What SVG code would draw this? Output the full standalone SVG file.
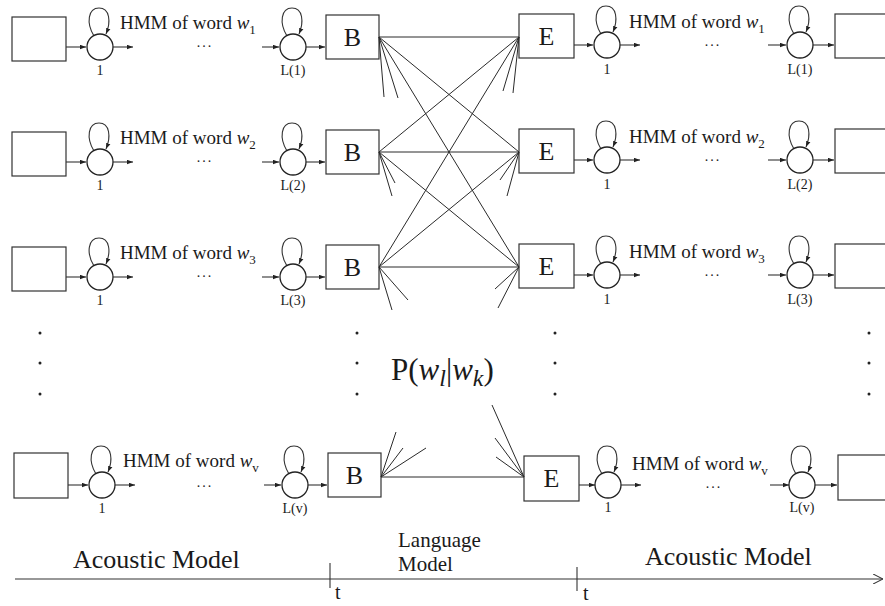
<svg xmlns="http://www.w3.org/2000/svg" width="885" height="606" viewBox="0 0 885 606">
  <style>
    .box { fill: #ffffff; stroke: #333; stroke-width: 1.2; }
    .st { fill: #ffffff; stroke: #222; stroke-width: 1.3; }
    .ln { fill: none; stroke: #333; stroke-width: 1.1; }
    .fan { fill: none; stroke: #2a2a2a; stroke-width: 1; }
    .t { font-family: "Liberation Serif", "Times New Roman", serif; fill: #1a1a1a; }
    .hmm { font-size: 19px; }
    .lab { font-size: 14px; text-anchor: middle; }
    .be { font-size: 26px; text-anchor: middle; }
    .dots { font-size: 14px; text-anchor: middle; letter-spacing: 2px; }
    .dot { fill: #222; }
  </style>
  <defs>
    <marker id="ah" viewBox="0 0 8 6" refX="8" refY="3" markerWidth="6" markerHeight="5" orient="auto" markerUnits="userSpaceOnUse">
      <path d="M0,0 L8,3 L0,6 z" fill="#222"/>
    </marker>
    <marker id="axh" viewBox="0 0 10 10" refX="10" refY="5" markerWidth="10" markerHeight="10" orient="auto" markerUnits="userSpaceOnUse">
      <path d="M0,0 L10,5 L0,10" fill="none" stroke="#333" stroke-width="1.1"/>
    </marker>
    <!-- HMM state: circle with a self-loop on top -->
    <g id="state">
      <path class="ln" d="M-6,-11 C-14,-24 -12,-39 -1,-39 C10,-39 11,-25 6,-13" marker-end="url(#ah)"/>
      <circle class="st" cx="0" cy="0" r="13"/>
    </g>
  </defs>

  <!-- left halves: word HMM chain ending in a B node -->
  <g id="left-w1" transform="translate(0,15)">
    <rect class="box" x="12" y="2" width="54" height="44"/>
    <line class="ln" x1="66" y1="32" x2="86" y2="32" marker-end="url(#ah)"/>
    <use href="#state" x="100" y="32"/>
    <line class="ln" x1="113" y1="32" x2="133" y2="32" marker-end="url(#ah)"/>
    <text class="t hmm" x="120" y="14">HMM of word <tspan font-style="italic">w</tspan><tspan font-size="13" dy="5">1</tspan></text>
    <text class="t dots" x="205" y="32">...</text>
    <line class="ln" x1="262" y1="32" x2="279" y2="32" marker-end="url(#ah)"/>
    <use href="#state" x="293" y="32"/>
    <line class="ln" x1="306" y1="32" x2="325" y2="32" marker-end="url(#ah)"/>
    <text class="t lab" x="100" y="60">1</text>
    <text class="t lab" x="293" y="60">L(1)</text>
  </g>
  <g id="B1"><rect class="box" x="326" y="15" width="53" height="44"/><text class="t be" x="352.5" y="46">B</text></g>

  <g id="left-w2" transform="translate(0,130)">
    <rect class="box" x="12" y="2" width="54" height="44"/>
    <line class="ln" x1="66" y1="32" x2="86" y2="32" marker-end="url(#ah)"/>
    <use href="#state" x="100" y="32"/>
    <line class="ln" x1="113" y1="32" x2="133" y2="32" marker-end="url(#ah)"/>
    <text class="t hmm" x="120" y="14">HMM of word <tspan font-style="italic">w</tspan><tspan font-size="13" dy="5">2</tspan></text>
    <text class="t dots" x="205" y="32">...</text>
    <line class="ln" x1="262" y1="32" x2="279" y2="32" marker-end="url(#ah)"/>
    <use href="#state" x="293" y="32"/>
    <line class="ln" x1="306" y1="32" x2="325" y2="32" marker-end="url(#ah)"/>
    <text class="t lab" x="100" y="60">1</text>
    <text class="t lab" x="293" y="60">L(2)</text>
  </g>
  <g id="B2"><rect class="box" x="326" y="130" width="53" height="44"/><text class="t be" x="352.5" y="161">B</text></g>

  <g id="left-w3" transform="translate(0,245)">
    <rect class="box" x="12" y="2" width="54" height="44"/>
    <line class="ln" x1="66" y1="32" x2="86" y2="32" marker-end="url(#ah)"/>
    <use href="#state" x="100" y="32"/>
    <line class="ln" x1="113" y1="32" x2="133" y2="32" marker-end="url(#ah)"/>
    <text class="t hmm" x="120" y="14">HMM of word <tspan font-style="italic">w</tspan><tspan font-size="13" dy="5">3</tspan></text>
    <text class="t dots" x="205" y="32">...</text>
    <line class="ln" x1="262" y1="32" x2="279" y2="32" marker-end="url(#ah)"/>
    <use href="#state" x="293" y="32"/>
    <line class="ln" x1="306" y1="32" x2="325" y2="32" marker-end="url(#ah)"/>
    <text class="t lab" x="100" y="60">1</text>
    <text class="t lab" x="293" y="60">L(3)</text>
  </g>
  <g id="B3"><rect class="box" x="326" y="245" width="53" height="44"/><text class="t be" x="352.5" y="276">B</text></g>

  <g id="left-wv" transform="translate(0,453)">
    <rect class="box" x="14" y="0" width="54" height="45"/>
    <line class="ln" x1="68" y1="32" x2="88" y2="32" marker-end="url(#ah)"/>
    <use href="#state" x="102" y="32"/>
    <line class="ln" x1="115" y1="32" x2="135" y2="32" marker-end="url(#ah)"/>
    <text class="t hmm" x="123" y="14">HMM of word <tspan font-style="italic">w</tspan><tspan font-size="13" dy="5">v</tspan></text>
    <text class="t dots" x="205" y="34">...</text>
    <line class="ln" x1="264" y1="32" x2="281" y2="32" marker-end="url(#ah)"/>
    <use href="#state" x="295" y="32"/>
    <line class="ln" x1="308" y1="32" x2="327" y2="32" marker-end="url(#ah)"/>
    <text class="t lab" x="102" y="60">1</text>
    <text class="t lab" x="295" y="60">L(v)</text>
  </g>
  <g id="Bv"><rect class="box" x="328" y="453" width="53" height="44"/><text class="t be" x="354.5" y="484">B</text></g>

  <!-- right halves: E node followed by a word HMM chain -->
  <g id="E1"><rect class="box" x="519" y="14" width="55" height="44"/><text class="t be" x="546.5" y="45">E</text></g>
  <g id="right-w1" transform="translate(0,14)">
    <line class="ln" x1="574" y1="31" x2="593" y2="31" marker-end="url(#ah)"/>
    <use href="#state" x="607" y="31"/>
    <line class="ln" x1="620" y1="31" x2="640" y2="31" marker-end="url(#ah)"/>
    <text class="t hmm" x="629" y="14">HMM of word <tspan font-style="italic">w</tspan><tspan font-size="13" dy="5">1</tspan></text>
    <text class="t dots" x="713" y="32">...</text>
    <line class="ln" x1="768" y1="31" x2="786" y2="31" marker-end="url(#ah)"/>
    <use href="#state" x="800" y="31"/>
    <line class="ln" x1="813" y1="31" x2="834" y2="31" marker-end="url(#ah)"/>
    <rect class="box" x="835" y="0" width="60" height="44"/>
    <text class="t lab" x="607" y="60">1</text>
    <text class="t lab" x="800" y="60">L(1)</text>
  </g>

  <g id="E2"><rect class="box" x="519" y="129" width="55" height="44"/><text class="t be" x="546.5" y="160">E</text></g>
  <g id="right-w2" transform="translate(0,129)">
    <line class="ln" x1="574" y1="31" x2="593" y2="31" marker-end="url(#ah)"/>
    <use href="#state" x="607" y="31"/>
    <line class="ln" x1="620" y1="31" x2="640" y2="31" marker-end="url(#ah)"/>
    <text class="t hmm" x="629" y="14">HMM of word <tspan font-style="italic">w</tspan><tspan font-size="13" dy="5">2</tspan></text>
    <text class="t dots" x="713" y="32">...</text>
    <line class="ln" x1="768" y1="31" x2="786" y2="31" marker-end="url(#ah)"/>
    <use href="#state" x="800" y="31"/>
    <line class="ln" x1="813" y1="31" x2="834" y2="31" marker-end="url(#ah)"/>
    <rect class="box" x="835" y="0" width="60" height="44"/>
    <text class="t lab" x="607" y="60">1</text>
    <text class="t lab" x="800" y="60">L(2)</text>
  </g>

  <g id="E3"><rect class="box" x="519" y="244" width="55" height="44"/><text class="t be" x="546.5" y="275">E</text></g>
  <g id="right-w3" transform="translate(0,244)">
    <line class="ln" x1="574" y1="31" x2="593" y2="31" marker-end="url(#ah)"/>
    <use href="#state" x="607" y="31"/>
    <line class="ln" x1="620" y1="31" x2="640" y2="31" marker-end="url(#ah)"/>
    <text class="t hmm" x="629" y="14">HMM of word <tspan font-style="italic">w</tspan><tspan font-size="13" dy="5">3</tspan></text>
    <text class="t dots" x="713" y="32">...</text>
    <line class="ln" x1="768" y1="31" x2="786" y2="31" marker-end="url(#ah)"/>
    <use href="#state" x="800" y="31"/>
    <line class="ln" x1="813" y1="31" x2="834" y2="31" marker-end="url(#ah)"/>
    <rect class="box" x="835" y="0" width="60" height="44"/>
    <text class="t lab" x="607" y="60">1</text>
    <text class="t lab" x="800" y="60">L(3)</text>
  </g>

  <g id="Ev"><rect class="box" x="524" y="456" width="55" height="45"/><text class="t be" x="551.5" y="487">E</text></g>
  <g id="right-wv" transform="translate(0,454)">
    <line class="ln" x1="579" y1="31" x2="595" y2="31" marker-end="url(#ah)"/>
    <use href="#state" x="608" y="31"/>
    <line class="ln" x1="621" y1="31" x2="641" y2="31" marker-end="url(#ah)"/>
    <text class="t hmm" x="632" y="16">HMM of word <tspan font-style="italic">w</tspan><tspan font-size="13" dy="5">v</tspan></text>
    <text class="t dots" x="714" y="34">...</text>
    <line class="ln" x1="770" y1="31" x2="789" y2="31" marker-end="url(#ah)"/>
    <use href="#state" x="802" y="31"/>
    <line class="ln" x1="815" y1="31" x2="837" y2="31" marker-end="url(#ah)"/>
    <rect class="box" x="838" y="1" width="60" height="45"/>
    <text class="t lab" x="608" y="58">1</text>
    <text class="t lab" x="802" y="58">L(v)</text>
  </g>

  <!-- language-model transitions between word ends (B) and word starts (E) -->
  <g id="connectors">
    <!-- from B1 -->
    <line class="fan" x1="379" y1="37" x2="519" y2="37"/>
    <line class="fan" x1="379" y1="37" x2="519" y2="152"/>
    <line class="fan" x1="379" y1="37" x2="519" y2="267"/>
    <line class="fan" x1="379" y1="37" x2="384" y2="97"/>
    <line class="fan" x1="379" y1="37" x2="398" y2="98"/>
    <!-- from B2 -->
    <line class="fan" x1="379" y1="152" x2="519" y2="37"/>
    <line class="fan" x1="379" y1="152" x2="519" y2="152"/>
    <line class="fan" x1="379" y1="152" x2="519" y2="267"/>
    <line class="fan" x1="379" y1="152" x2="395" y2="183"/>
    <line class="fan" x1="379" y1="152" x2="392" y2="196"/>
    <!-- from B3 -->
    <line class="fan" x1="379" y1="267" x2="519" y2="37"/>
    <line class="fan" x1="379" y1="267" x2="519" y2="152"/>
    <line class="fan" x1="379" y1="267" x2="519" y2="267"/>
    <line class="fan" x1="379" y1="267" x2="408" y2="300"/>
    <line class="fan" x1="379" y1="267" x2="392" y2="310"/>
    <!-- partial fans into E1..E3 -->
    <line class="fan" x1="519" y1="37" x2="503" y2="91"/>
    <line class="fan" x1="519" y1="37" x2="513" y2="93"/>
    <line class="fan" x1="519" y1="152" x2="500" y2="180"/>
    <line class="fan" x1="519" y1="152" x2="507" y2="196"/>
    <line class="fan" x1="519" y1="267" x2="495" y2="289"/>
    <line class="fan" x1="519" y1="267" x2="498" y2="308"/>
    <!-- last row -->
    <line class="fan" x1="381" y1="477" x2="524" y2="477"/>
    <line class="fan" x1="381" y1="477" x2="396" y2="432"/>
    <line class="fan" x1="381" y1="477" x2="403" y2="448"/>
    <line class="fan" x1="381" y1="477" x2="426" y2="448"/>
    <line class="fan" x1="524" y1="477" x2="492" y2="405"/>
    <line class="fan" x1="524" y1="477" x2="495" y2="438"/>
    <line class="fan" x1="524" y1="477" x2="496" y2="457"/>
  </g>

  <!-- vertical ellipsis columns -->
  <g id="ellipses">
    <circle class="dot" cx="40" cy="333" r="1.5"/><circle class="dot" cx="40" cy="363" r="1.5"/><circle class="dot" cx="40" cy="394" r="1.5"/>
    <circle class="dot" cx="357" cy="333" r="1.5"/><circle class="dot" cx="357" cy="363" r="1.5"/><circle class="dot" cx="357" cy="394" r="1.5"/>
    <circle class="dot" cx="555" cy="333" r="1.5"/><circle class="dot" cx="555" cy="363" r="1.5"/><circle class="dot" cx="555" cy="394" r="1.5"/>
    <circle class="dot" cx="869" cy="333" r="1.5"/><circle class="dot" cx="869" cy="363" r="1.5"/><circle class="dot" cx="869" cy="394" r="1.5"/>
  </g>

  <text class="t" x="391" y="380" font-size="31">P(<tspan font-style="italic">w</tspan><tspan font-style="italic" font-size="24" dy="6">l</tspan><tspan dy="-6">|</tspan><tspan font-style="italic">w</tspan><tspan font-style="italic" font-size="24" dy="6">k</tspan><tspan dy="-6">)</tspan></text>

  <!-- time axis and section labels -->
  <g id="axis">
    <line class="ln" x1="15" y1="579" x2="883" y2="579" marker-end="url(#axh)"/>
    <line class="ln" x1="330" y1="563" x2="330" y2="588"/>
    <line class="ln" x1="577" y1="567" x2="577" y2="591"/>
    <text class="t" x="335" y="599" font-size="20">t</text>
    <text class="t" x="583" y="600" font-size="20">t</text>
  </g>
  <text class="t" x="73" y="568" font-size="26">Acoustic Model</text>
  <text class="t" x="398" y="547" font-size="21">Language</text>
  <text class="t" x="398" y="571" font-size="21">Model</text>
  <text class="t" x="645" y="565" font-size="26">Acoustic Model</text>
</svg>
